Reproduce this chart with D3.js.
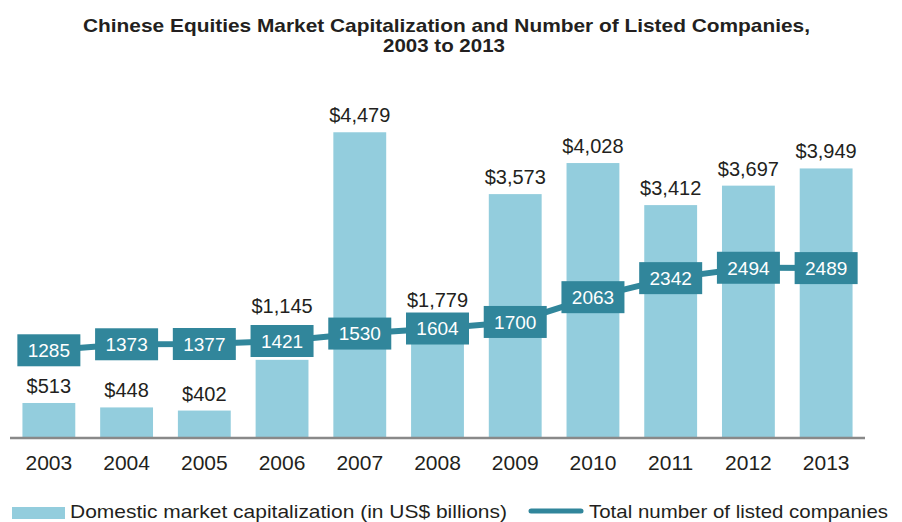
<!DOCTYPE html>
<html>
<head>
<meta charset="utf-8">
<script src="https://cdn.jsdelivr.net/npm/d3@7"></script>
<style>
  body { margin: 0; background: #fff; }
  svg { display: block; font-family: "Liberation Sans", Arial, sans-serif; }
</style>
</head>
<body>
<svg width="902" height="522"></svg>
<script>
const years = ['2003', '2004', '2005', '2006', '2007', '2008', '2009', '2010', '2011', '2012', '2013']
const marketCap = [513, 448, 402, 1145, 4479, 1779, 3573, 4028, 3412, 3697, 3949]
const listedCompanies = [1285, 1373, 1377, 1421, 1530, 1604, 1700, 2063, 2342, 2494, 2489]
const titleLines = ['Chinese Equities Market Capitalization and Number of Listed Companies,', '2003 to 2013']
const legendLabels = ['Domestic market capitalization (in US$ billions)', 'Total number of listed companies']

const width = 902
    , height = 522
    , baseline = 438
    , barColor = '#93cddd'
    , lineColor = '#31869b'
    , textColor = '#231f20'
    , fmt = d3.format(',')
    , svg = d3.select('svg')
    , x = d3.scaleBand()
        .domain(years)
        .range([10, 865])
        .paddingInner(0.32)
        .paddingOuter(0.16)
    , y = d3.scaleLinear()
        .domain([0, 5000])
        .range([baseline, 96.7])
    , cx = d => x(d) + x.bandwidth() / 2
    , boxW = 63
    , boxH = 32

// title
svg.selectAll('text.title')
    .data(titleLines)
    .join('text')
    .attr('class', 'title')
    .attr('x', (d, i) => i ? 444 : 446.5)
    .attr('y', (d, i) => i ? 52 : 32)
    .attr('text-anchor', 'middle')
    .attr('font-size', 19)
    .attr('font-weight', 'bold')
    .attr('fill', textColor)
    .attr('textLength', (d, i) => i ? 122 : 727)
    .attr('lengthAdjust', 'spacingAndGlyphs')
    .text(d => d)

// bars
const rows = years.map((yr, i) => ({ yr, cap: marketCap[i], n: listedCompanies[i] }))

svg.selectAll('rect.bar')
    .data(rows)
    .join('rect')
    .attr('class', 'bar')
    .attr('x', d => x(d.yr))
    .attr('width', x.bandwidth())
    .attr('y', d => y(d.cap))
    .attr('height', d => baseline - y(d.cap))
    .attr('fill', barColor)

// label sits above the bar, or above the line box when they would collide
const labelY = d => {
    const ly = y(d.cap) - 10
    const boxTop = y(d.n) - boxH / 2
    const boxBottom = y(d.n) + boxH / 2
    return (ly - 15 < boxBottom && ly + 4 > boxTop) ? boxTop - 12 : ly
}

svg.selectAll('text.bar-label')
    .data(rows)
    .join('text')
    .attr('class', 'bar-label')
    .attr('x', d => cx(d.yr))
    .attr('y', labelY)
    .attr('text-anchor', 'middle')
    .attr('font-size', 20)
    .attr('fill', textColor)
    .text(d => '$' + fmt(d.cap))

// axis
const axis = svg.append('g')
    .attr('transform', `translate(0,${baseline})`)
    .call(d3.axisBottom(x).tickSize(0).tickPadding(0))
axis.select('.domain')
    .attr('stroke', '#898989')
    .attr('stroke-width', 2.5)
    .attr('d', `M${x.range()[0]},0H${x.range()[1]}`)
axis.selectAll('.tick text')
    .attr('y', 32)
    .attr('dy', 0)
    .attr('font-size', 21)
    .attr('font-family', '"Liberation Sans", Arial, sans-serif')
    .attr('fill', textColor)

// line with boxed labels
svg.append('path')
    .datum(rows)
    .attr('fill', 'none')
    .attr('stroke', lineColor)
    .attr('stroke-width', 6)
    .attr('d', d3.line().x(d => cx(d.yr)).y(d => y(d.n)))

const boxes = svg.selectAll('g.box')
    .data(rows)
    .join('g')
    .attr('class', 'box')
    .attr('transform', d => `translate(${cx(d.yr)},${y(d.n)})`)
boxes.append('rect')
    .attr('x', -boxW / 2)
    .attr('y', -boxH / 2)
    .attr('width', boxW)
    .attr('height', boxH)
    .attr('fill', lineColor)
boxes.append('text')
    .attr('text-anchor', 'middle')
    .attr('dy', '0.36em')
    .attr('font-size', 19)
    .attr('fill', '#fff')
    .text(d => d.n)

// legend
const legend = svg.append('g')
legend.append('rect')
    .attr('x', 12).attr('y', 507)
    .attr('width', 53).attr('height', 12)
    .attr('fill', barColor)
legend.append('line')
    .attr('x1', 531).attr('x2', 581)
    .attr('y1', 511).attr('y2', 511)
    .attr('stroke', lineColor)
    .attr('stroke-width', 5)
    .attr('stroke-linecap', 'round')
legend.selectAll('text')
    .data(legendLabels)
    .join('text')
    .attr('x', (d, i) => i ? 589 : 70)
    .attr('y', 518)
    .attr('font-size', 19)
    .attr('fill', textColor)
    .attr('textLength', (d, i) => i ? 299 : 437)
    .attr('lengthAdjust', 'spacingAndGlyphs')
    .text(d => d)
</script>
</body>
</html>
